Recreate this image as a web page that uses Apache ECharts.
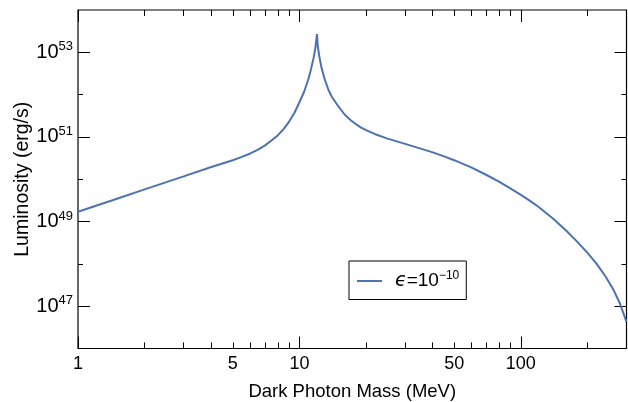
<!DOCTYPE html>
<html>
<head>
<meta charset="utf-8">
<script src="https://cdn.jsdelivr.net/npm/echarts@6/dist/echarts.min.js"></script>
<style>html,body{margin:0;padding:0;background:#fff;}#c{width:628px;height:402px;}</style>
</head>
<body>
<div id="c"></div>
<script>
const masses = [1, 1.5, 2, 3, 4, 5, 5.5, 6, 6.5, 7, 7.5, 8, 8.5, 9, 9.5, 10, 10.5, 11, 11.3, 11.6, 11.8, 12.0, 12.1, 12.3, 12.6, 13, 13.5, 14, 15, 16, 17, 18, 19, 20, 22, 25, 30, 35, 40, 45, 50, 60, 70, 80, 90, 100, 110, 120, 140, 160, 180, 200, 220, 240, 260, 280, 300];
const luminosity = [1.70e49, 3.47e49, 5.75e49, 1.17e50, 1.95e50, 2.82e50, 3.39e50, 4.07e50, 5.01e50, 6.31e50, 8.32e50, 1.10e51, 1.55e51, 2.34e51, 3.72e51, 6.61e51, 1.17e52, 2.40e52, 4.17e52, 7.59e52, 1.26e53, 2.69e53, 1.41e53, 7.94e52, 4.17e52, 2.34e52, 1.32e52, 8.91e51, 5.25e51, 3.39e51, 2.51e51, 2.00e51, 1.66e51, 1.45e51, 1.16e51, 9.12e50, 6.84e50, 5.37e50, 4.32e50, 3.47e50, 2.82e50, 1.89e50, 1.26e50, 8.71e49, 6.03e49, 4.27e49, 3.09e49, 2.24e49, 1.17e49, 6.17e48, 3.31e48, 1.82e48, 1.00e48, 5.25e47, 2.63e47, 1.17e47, 4.27e46];
const seriesName = 'ϵ=10^-10';
const xLabelValues = [1, 5, 10, 50, 100];
const xMajorTicks = [1, 10, 100];
const xMinorTicks = [2, 3, 4, 5, 6, 7, 8, 9, 20, 30, 40, 50, 60, 70, 80, 90, 200];
const yLabelValues = [1e47, 1e49, 1e51, 1e53];
const yMinorTicks = [1e48, 1e50, 1e52];
const xRange = [1, 300];
const yRange = [1e46, 1e54];

const FONT = '"Liberation Sans", Arial, sans-serif';
const chart = echarts.init(document.getElementById('c'), null, {renderer: 'canvas'});

function xAxisDef(pos, ticks, len, labels) {
  return {
    type: 'log', logBase: 10, position: pos, min: xRange[0], max: xRange[1],
    axisLine: {show: false},
    splitLine: {show: false},
    minorTick: {show: false},
    axisTick: {show: true, inside: true, length: len, customValues: ticks, lineStyle: {color: '#000', width: 1}},
    axisLabel: labels ? {show: true, customValues: labels, color: '#000', fontSize: 18, fontFamily: FONT, margin: 7, formatter: v => String(v)} : {show: false}
  };
}
function yAxisDef(pos, ticks, len, labels) {
  return {
    type: 'log', logBase: 10, position: pos, min: yRange[0], max: yRange[1],
    axisLine: {show: false},
    splitLine: {show: false},
    minorTick: {show: false},
    axisTick: {show: true, inside: true, length: len, customValues: ticks, lineStyle: {color: '#000', width: 1}},
    axisLabel: labels ? {
      show: true, customValues: labels, margin: 5,
      formatter: v => '{b|10}{s|' + Math.round(Math.log10(v)) + '}',
      rich: {
        b: {fontSize: 20, fontFamily: FONT, color: '#000'},
        s: {fontSize: 13, fontFamily: FONT, color: '#000', padding: [0, 0, 11, 0]}
      }
    } : {show: false}
  };
}

const xAxes = [
  Object.assign(xAxisDef('bottom', xMajorTicks, 12, xLabelValues), {
    name: 'Dark Photon Mass (MeV)', nameLocation: 'middle', nameGap: 34,
    nameTextStyle: {fontSize: 18.5, fontFamily: FONT, color: '#000'}
  }),
  xAxisDef('bottom', xMinorTicks, 6, null),
  xAxisDef('top', xMajorTicks, 12, null),
  xAxisDef('top', xMinorTicks, 6, null)
];
const yAxes = [
  Object.assign(yAxisDef('left', yLabelValues, 12, yLabelValues), {
    name: 'Luminosity (erg/s)', nameLocation: 'middle', nameGap: 45, nameRotate: 90, nameMoveOverlap: false,
    nameTextStyle: {fontSize: 19.5, fontFamily: FONT, color: '#000'}
  }),
  yAxisDef('left', yMinorTicks, 5, null),
  yAxisDef('right', yLabelValues, 12, null),
  yAxisDef('right', yMinorTicks, 5, null)
];

chart.setOption({
  animation: false,
  backgroundColor: '#fff',
  grid: {left: 78, right: 1.5, top: 10, bottom: 53.5, containLabel: false, outerBoundsMode: 'none',
         show: true, borderColor: '#000', borderWidth: 1.2, backgroundColor: 'transparent'},
  xAxis: xAxes,
  yAxis: yAxes,
  legend: {
    show: true, left: 349, top: 261,
    borderColor: '#000', borderWidth: 1, padding: [9, 7, 9, 8],
    icon: 'rect', itemWidth: 25, itemHeight: 2, itemGap: 10,
    data: [seriesName],
    formatter: () => '{i|ϵ}=10{s|−10}',
    textStyle: {
      fontSize: 19, fontFamily: FONT, color: '#000',
      rich: {
        i: {fontSize: 19, fontStyle: 'italic', fontFamily: '"DejaVu Sans", ' + FONT, color: '#000', padding: [0, 0, 0, 8]},
        s: {fontSize: 12, fontFamily: FONT, color: '#000', padding: [0, 0, 10, 0]}
      }
    }
  },
  series: [{
    name: seriesName, type: 'line', xAxisIndex: 0, yAxisIndex: 0,
    data: masses.map((m, i) => [m, luminosity[i]]),
    showSymbol: false, symbol: 'none', smooth: false,
    lineStyle: {color: '#4c72b0', width: 2},
    itemStyle: {color: '#4c72b0'}
  }]
});
</script>
</body>
</html>
